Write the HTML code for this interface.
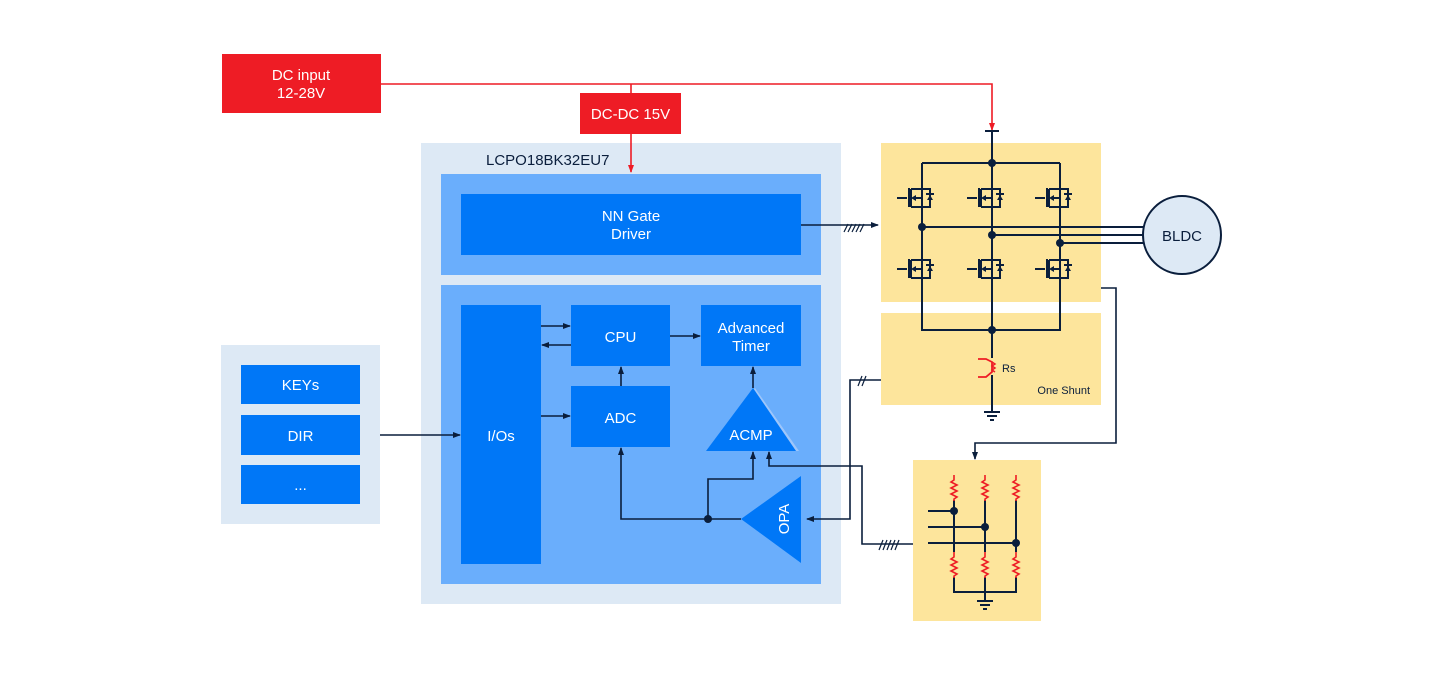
<!DOCTYPE html>
<html><head><meta charset="utf-8"><style>
html,body{margin:0;padding:0;background:#fff;}
svg{display:block;font-family:"Liberation Sans",sans-serif;}
</style></head><body>
<svg width="1440" height="680" viewBox="0 0 1440 680" xmlns="http://www.w3.org/2000/svg">
<defs>
<marker id="an" markerWidth="8" markerHeight="8" refX="7" refY="4" orient="auto" markerUnits="userSpaceOnUse"><path d="M0,1 L8,4 L0,7 z" fill="#0a1e3c"/></marker>
<marker id="ar" markerWidth="8" markerHeight="8" refX="7" refY="4" orient="auto" markerUnits="userSpaceOnUse"><path d="M0,1 L8,4 L0,7 z" fill="#ee1c25"/></marker>
<g id="fet" fill="none" stroke="#0a1e3c" stroke-width="2">
<path d="M-25,0 H-15 M-13,-10 V9 M-11,-9 V9 M-11,-9 H0 M-11,9 H0 M-8,0 H0 M0,-9 H8 V9 H0 M4,-4 H12"/>
<path d="M-11,0 L-6,-3 L-6,3 z M8,-3 L5,2 L11,2 z" fill="#0a1e3c" stroke="none"/>
</g>
<g id="res" fill="none" stroke="#ee1c25" stroke-width="1.6"><path d="M0,0 V5 L-3,7 L3,10 L-3,13 L3,16 L-3,19 L3,22 L0,24 V26"/></g>
</defs>

<!-- red power -->
<rect x="222" y="54" width="159" height="59" fill="#ee1c25"/>
<text x="301" y="80" fill="#fff" font-size="15" text-anchor="middle">DC input</text>
<text x="301" y="98" fill="#fff" font-size="15" text-anchor="middle">12-28V</text>
<path d="M381,84 H992 V130" fill="none" stroke="#ee1c25" stroke-width="1.6" marker-end="url(#ar)"/>
<path d="M631,84 V93" stroke="#ee1c25" stroke-width="1.6"/>
<rect x="580" y="93" width="101" height="41" fill="#ee1c25"/>
<text x="630.5" y="119" fill="#fff" font-size="15" text-anchor="middle">DC-DC 15V</text>

<!-- chip -->
<rect x="421" y="143" width="420" height="461" fill="#dde9f5"/>
<text x="486" y="165" fill="#0a1e3c" font-size="15">LCPO18BK32EU7</text>
<path d="M631,134 V172" stroke="#ee1c25" stroke-width="1.6" marker-end="url(#ar)"/>
<rect x="441" y="174" width="380" height="101" fill="#6aaefc"/>
<rect x="461" y="194" width="340" height="61" fill="#0077f7"/>
<text x="631" y="221" fill="#fff" font-size="15" text-anchor="middle">NN Gate</text>
<text x="631" y="239" fill="#fff" font-size="15" text-anchor="middle">Driver</text>
<rect x="441" y="285" width="380" height="299" fill="#6aaefc"/>
<rect x="461" y="305" width="80" height="259" fill="#0077f7"/>
<text x="501" y="441" fill="#fff" font-size="15" text-anchor="middle">I/Os</text>
<rect x="571" y="305" width="99" height="61" fill="#0077f7"/>
<text x="620.5" y="342" fill="#fff" font-size="15" text-anchor="middle">CPU</text>
<rect x="701" y="305" width="100" height="61" fill="#0077f7"/>
<text x="751" y="333" fill="#fff" font-size="15" text-anchor="middle">Advanced</text>
<text x="751" y="351" fill="#fff" font-size="15" text-anchor="middle">Timer</text>
<rect x="571" y="386" width="99" height="61" fill="#0077f7"/>
<text x="620.5" y="423" fill="#fff" font-size="15" text-anchor="middle">ADC</text>
<polygon points="755,388 799,451 796,451 753,390" fill="#9ec6fa"/>
<polygon points="753,388 706,451 796,451" fill="#0077f7"/>
<text x="751" y="440" fill="#fff" font-size="15" text-anchor="middle">ACMP</text>
<polygon points="741,519 801,476 801,563" fill="#0077f7"/>
<text x="0" y="0" fill="#fff" font-size="15" text-anchor="middle" transform="translate(789,519) rotate(-90)">OPA</text>

<!-- keys -->
<rect x="221" y="345" width="159" height="179" fill="#dde9f5"/>
<rect x="241" y="365" width="119" height="39" fill="#0077f7"/>
<text x="300.5" y="390" fill="#fff" font-size="15" text-anchor="middle">KEYs</text>
<rect x="241" y="415" width="119" height="40" fill="#0077f7"/>
<text x="300.5" y="441" fill="#fff" font-size="15" text-anchor="middle">DIR</text>
<rect x="241" y="465" width="119" height="39" fill="#0077f7"/>
<text x="300.5" y="490" fill="#fff" font-size="15" text-anchor="middle">...</text>

<!-- internal arrows -->
<g fill="none" stroke="#0a1e3c" stroke-width="1.6">
<path d="M380,435 H460" marker-end="url(#an)"/>
<path d="M541,326 H570" marker-end="url(#an)"/>
<path d="M571,345 H542" marker-end="url(#an)"/>
<path d="M541,416 H570" marker-end="url(#an)"/>
<path d="M670,336 H700" marker-end="url(#an)"/>
<path d="M621,386 V367" marker-end="url(#an)"/>
<path d="M753,388 V367" marker-end="url(#an)"/>
<path d="M741,519 H621 V448" marker-end="url(#an)"/>
<path d="M708,519 V479 H753 V452" marker-end="url(#an)"/>
<path d="M913,544 H862 V466 H769 V452" marker-end="url(#an)"/>
<path d="M881,380 H850 V519 H807" marker-end="url(#an)"/>
<path d="M801,225 H878" marker-end="url(#an)"/>
<path d="M1101,288 H1116 V443 H975 V459" marker-end="url(#an)"/>
<path d="M844,232 l4,-8 M848,232 l4,-8 M852,232 l4,-8 M856,232 l4,-8 M860,232 l4,-8" stroke-width="1.2"/>
<path d="M858,386 l4,-10 M862,386 l4,-10" stroke-width="1.2"/>
<path d="M879,550 l4,-10 M883,550 l4,-10 M887,550 l4,-10 M891,550 l4,-10 M895,550 l4,-10" stroke-width="1.2"/>
</g>
<circle cx="708" cy="519" r="4" fill="#0a1e3c"/>

<!-- bridge -->
<rect x="881" y="143" width="220" height="159" fill="#fde59c"/>
<rect x="881" y="313" width="220" height="92" fill="#fde59c"/>
<rect x="913" y="460" width="128" height="161" fill="#fde59c"/>
<g fill="none" stroke="#0a1e3c" stroke-width="2">
<path d="M985,131 H999"/>
<path d="M992,131 V412"/>
<path d="M922,163 H1060 M922,163 V330 H1060 V163"/>
<path d="M922,227 H1143 M992,235 H1143 M1060,243 H1143"/>
<path d="M984,412 H1000 M987,416 H997 M990,420 H994"/>
</g>
<g fill="#0a1e3c"><circle cx="992" cy="163" r="4"/><circle cx="922" cy="227" r="4"/><circle cx="992" cy="235" r="4"/><circle cx="1060" cy="243" r="4"/><circle cx="992" cy="330" r="4"/></g>
<use href="#fet" x="922" y="198"/><use href="#fet" x="992" y="198"/><use href="#fet" x="1060" y="198"/>
<use href="#fet" x="922" y="269"/><use href="#fet" x="992" y="269"/><use href="#fet" x="1060" y="269"/>
<rect x="988" y="358" width="8" height="17" fill="#fde59c"/>
<path d="M978,359 H986 L992,362 V372 L986,377 H978" fill="none" stroke="#ee1c25" stroke-width="1.8"/>
<path d="M992,362 l3,2 l-3,2 l3,2 l-3,2 l3,2" fill="none" stroke="#ee1c25" stroke-width="1.5"/>
<text x="1002" y="372" fill="#0a1e3c" font-size="11">Rs</text>
<text x="1090" y="394" fill="#0a1e3c" font-size="11" text-anchor="end">One Shunt</text>
<circle cx="1182" cy="235" r="39" fill="#dde9f5" stroke="#0a1e3c" stroke-width="2"/>
<text x="1182" y="241" fill="#0a1e3c" font-size="15" text-anchor="middle">BLDC</text>

<!-- resistor net -->
<g fill="none" stroke="#0a1e3c" stroke-width="2">
<path d="M954,500 V552 M985,500 V552 M1016,500 V552 M954,577 V592 H1016 V577 M985,577 V600"/>
<path d="M928,511 H954 M928,527 H985 M928,543 H1016"/>
<path d="M977,601 H993 M980,605 H990 M983,609 H987"/>
</g>
<g fill="#0a1e3c"><circle cx="954" cy="511" r="4"/><circle cx="985" cy="527" r="4"/><circle cx="1016" cy="543" r="4"/></g>
<use href="#res" x="954" y="475"/><use href="#res" x="985" y="475"/><use href="#res" x="1016" y="475"/>
<use href="#res" x="954" y="552"/><use href="#res" x="985" y="552"/><use href="#res" x="1016" y="552"/>
</svg>
</body></html>
